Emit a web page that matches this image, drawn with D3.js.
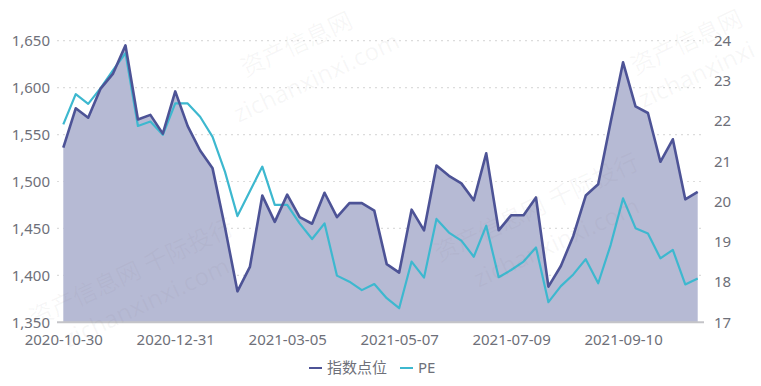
<!DOCTYPE html>
<html>
<head>
<meta charset="utf-8">
<script src="https://cdn.jsdelivr.net/npm/d3@7"></script>
<style>
	body { margin: 0; background: #fff; }
	svg { display: block; font-family: 'Noto Sans', 'Noto Sans CJK SC', sans-serif; }
</style>
</head>
<body>
<svg id="chart" width="761" height="386"></svg>
<script>
var dates = [
	'2020-10-30', '2020-11-06', '2020-11-13', '2020-11-20', '2020-11-27', '2020-12-04', '2020-12-11',
	'2020-12-18', '2020-12-25', '2020-12-31', '2021-01-08', '2021-01-15', '2021-01-22', '2021-01-29',
	'2021-02-05', '2021-02-10', '2021-02-19', '2021-02-26', '2021-03-05', '2021-03-12', '2021-03-19',
	'2021-03-26', '2021-04-02', '2021-04-09', '2021-04-16', '2021-04-23', '2021-04-30', '2021-05-07',
	'2021-05-14', '2021-05-21', '2021-05-28', '2021-06-04', '2021-06-11', '2021-06-18', '2021-06-25',
	'2021-07-02', '2021-07-09', '2021-07-16', '2021-07-23', '2021-07-30', '2021-08-06', '2021-08-13',
	'2021-08-20', '2021-08-27', '2021-09-03', '2021-09-10', '2021-09-17', '2021-09-24', '2021-09-30',
	'2021-10-08', '2021-10-15', '2021-10-22'
];

var indexPoints = [
	1536, 1578, 1568, 1599, 1615, 1645, 1566, 1571, 1551, 1596,
	1559, 1533, 1514, 1451, 1383, 1409, 1485, 1457, 1486, 1462,
	1455, 1488, 1462, 1477, 1477, 1469, 1412, 1403, 1470, 1448,
	1517, 1506, 1498, 1480, 1530, 1448, 1464, 1464, 1483, 1388,
	1410, 1442, 1485, 1497, 1563, 1627, 1580, 1573, 1521, 1545,
	1481, 1489
];

var pe = [
	21.92, 22.67, 22.43, 22.82, 23.27, 23.69, 21.88, 21.99, 21.66, 22.44,
	22.44, 22.11, 21.61, 20.74, 19.64, 20.26, 20.87, 19.92, 19.92, 19.46,
	19.07, 19.46, 18.16, 18.01, 17.80, 17.95, 17.60, 17.35, 18.51, 18.11,
	19.57, 19.23, 19.03, 18.63, 19.40, 18.12, 18.30, 18.51, 18.86, 17.50,
	17.90, 18.19, 18.57, 17.97, 18.92, 20.08, 19.34, 19.21, 18.59, 18.80,
	17.94, 18.09
];

var leftTicks = [ 1350, 1400, 1450, 1500, 1550, 1600, 1650 ];
var rightTicks = [ 17, 18, 19, 20, 21, 22, 23, 24 ];
var seriesNames = [ '指数点位', 'PE' ];

var DARK = '#4d5396', AREA = '#b6bad4', CYAN = '#3db8cf', TEXT = '#6e7079';

var svg = d3.select( '#chart' );

var x = d3.scalePoint().domain( dates ).range( [ 63.3, 697.7 ] );
var yL = d3.scaleLinear().domain( [ 1350, 1650 ] ).range( [ 322.3, 40.7 ] );
var yR = d3.scaleLinear().domain( [ 17, 24 ] ).range( [ 322.3, 40.7 ] );

// watermarks
var marks = [
	{ x: 300, y: 52, t: '资产信息网' }, { x: 320, y: 85, t: 'zichanxinxi.com' },
	{ x: 690, y: 50, t: '资产信息网' }, { x: 700, y: 82, t: 'zichanxinxi' },
	{ x: 135, y: 280, t: '资产信息网 千际投行' }, { x: 150, y: 310, t: 'zichanxinxi.com' },
	{ x: 540, y: 215, t: '资产信息网 千际投行' }, { x: 560, y: 250, t: 'zichanxinxi.com' }
];

// grid
svg.append( 'g' )
	.selectAll( 'line' ).data( leftTicks.slice( 1 ) )
	.enter().append( 'line' )
	.attr( 'x1', 57 ).attr( 'x2', 704 )
	.attr( 'y1', function( d ) { return yL( d ); } )
	.attr( 'y2', function( d ) { return yL( d ); } )
	.style( 'stroke', '#dcdcdc' ).style( 'stroke-width', 1.2 )
	.style( 'stroke-dasharray', '2,4' );

var area = d3.area()
	.x( function( d, i ) { return x( dates[ i ] ); } )
	.y0( yL( 1350 ) )
	.y1( function( d ) { return yL( d ); } );

svg.append( 'path' ).datum( indexPoints )
	.attr( 'd', area )
	.style( 'fill', AREA );

svg.append( 'line' )
	.attr( 'x1', 57 ).attr( 'x2', 704 )
	.attr( 'y1', yL( 1350 ) ).attr( 'y2', yL( 1350 ) )
	.style( 'stroke', '#c4c4c8' ).style( 'stroke-width', 2 );

var lineL = d3.line()
	.x( function( d, i ) { return x( dates[ i ] ); } )
	.y( function( d ) { return yL( d ); } );
var lineR = d3.line()
	.x( function( d, i ) { return x( dates[ i ] ); } )
	.y( function( d ) { return yR( d ); } );

svg.append( 'path' ).datum( pe )
	.attr( 'd', lineR )
	.style( 'fill', 'none' ).style( 'stroke', CYAN ).style( 'stroke-width', 2.2 )
	.style( 'stroke-linejoin', 'round' );

svg.append( 'path' ).datum( indexPoints )
	.attr( 'd', lineL )
	.style( 'fill', 'none' ).style( 'stroke', DARK ).style( 'stroke-width', 2.6 )
	.style( 'stroke-linejoin', 'round' );

svg.append( 'g' )
	.selectAll( 'text' ).data( marks )
	.enter().append( 'text' )
	.attr( 'transform', function( d ) { return 'translate(' + d.x + ',' + d.y + ') rotate(-25)'; } )
	.attr( 'text-anchor', 'middle' )
	.style( 'font-size', '24px' )
	.style( 'fill', 'rgba(120,120,120,0.06)' )
	.text( function( d ) { return d.t; } );

// axes
var fmt = d3.format( ',' );
var axL = svg.append( 'g' ).attr( 'transform', 'translate(50,0)' )
	.call( d3.axisLeft( yL ).tickValues( leftTicks ).tickFormat( fmt ).tickSize( 0 ).tickPadding( 0 ) );
var axR = svg.append( 'g' ).attr( 'transform', 'translate(714,0)' )
	.call( d3.axisRight( yR ).tickValues( rightTicks ).tickFormat( d3.format( 'd' ) ).tickSize( 0 ).tickPadding( 0 ) );
var axB = svg.append( 'g' ).attr( 'transform', 'translate(0,' + yL( 1350 ) + ')' )
	.call( d3.axisBottom( x ).tickValues( dates.filter( function( d, i ) { return i % 9 == 0; } ) )
		.tickSize( 0 ).tickPadding( 12 ) );

[ axL, axR, axB ].forEach( function( g ) {
	g.select( '.domain' ).remove();
	g.selectAll( 'text' )
		.style( 'font-family', "'Noto Sans', sans-serif" )
		.style( 'font-size', '15px' )
		.style( 'fill', TEXT );
} );

// legend
var legend = svg.append( 'g' ).attr( 'transform', 'translate(0,368)' );
var items = [ { x: 309, c: DARK }, { x: 400, c: CYAN } ];
items.forEach( function( it, i ) {
	legend.append( 'line' )
		.attr( 'x1', it.x ).attr( 'x2', it.x + 13 )
		.attr( 'y1', 0 ).attr( 'y2', 0 )
		.style( 'stroke', it.c ).style( 'stroke-width', 2 );
	legend.append( 'text' )
		.attr( 'x', it.x + 18 ).attr( 'y', 0 ).attr( 'dy', '0.35em' )
		.style( 'font-size', '15px' ).style( 'fill', TEXT )
		.text( seriesNames[ i ] );
} );
</script>
</body>
</html>
